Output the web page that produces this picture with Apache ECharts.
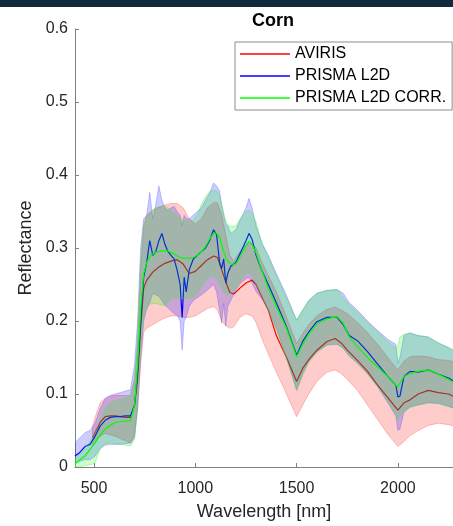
<!DOCTYPE html>
<html>
<head>
<meta charset="utf-8">
<script src="https://cdn.jsdelivr.net/npm/echarts@6/dist/echarts.min.js"></script>
<style>
	html, body { margin: 0; padding: 0; background: #fff; }
	#main { width: 453px; height: 526px; }
</style>
</head>
<body>
<div id="main"></div>
<script>
// wavelengths (nm) of the PRISMA samples
var wlPrisma = [406, 430, 455, 480, 505, 530, 555, 580, 605, 630, 655, 680, 700, 715, 730, 745, 760, 775, 790, 805, 820, 835, 850, 865, 880, 895, 910, 925, 935, 945, 955, 970, 990, 1010, 1030, 1050, 1070, 1090, 1105, 1120, 1130, 1140, 1150, 1160, 1175, 1200, 1225, 1250, 1265, 1280, 1300, 1330, 1360, 1400, 1450, 1500, 1530, 1560, 1600, 1650, 1700, 1730, 1760, 1800, 1850, 1900, 1950, 1990, 2000, 2010, 2030, 2060, 2100, 2150, 2200, 2250, 2280];

// PRISMA L2D
var l2dMean = [0.015, 0.02, 0.028, 0.031, 0.042, 0.056, 0.064, 0.068, 0.069, 0.069, 0.07, 0.07, 0.085, 0.13, 0.2, 0.26, 0.28, 0.31, 0.29, 0.295, 0.31, 0.32, 0.305, 0.295, 0.29, 0.285, 0.27, 0.25, 0.205, 0.26, 0.24, 0.27, 0.285, 0.29, 0.295, 0.3, 0.31, 0.325, 0.318, 0.28, 0.272, 0.285, 0.252, 0.265, 0.275, 0.28, 0.295, 0.31, 0.32, 0.312, 0.29, 0.268, 0.25, 0.225, 0.192, 0.153, 0.172, 0.185, 0.199, 0.205, 0.205, 0.195, 0.18, 0.173, 0.158, 0.141, 0.124, 0.112, 0.096, 0.097, 0.124, 0.131, 0.13, 0.133, 0.127, 0.122, 0.117];
var l2dHigh = [0.033, 0.04, 0.047, 0.05, 0.06, 0.08, 0.094, 0.098, 0.1, 0.102, 0.104, 0.106, 0.14, 0.2, 0.3, 0.34, 0.345, 0.376, 0.34, 0.36, 0.385, 0.365, 0.355, 0.352, 0.355, 0.357, 0.35, 0.345, 0.33, 0.345, 0.34, 0.34, 0.345, 0.35, 0.355, 0.365, 0.375, 0.389, 0.385, 0.378, 0.36, 0.345, 0.333, 0.33, 0.32, 0.325, 0.34, 0.355, 0.368, 0.355, 0.33, 0.306, 0.29, 0.265, 0.235, 0.201, 0.215, 0.228, 0.238, 0.242, 0.243, 0.238, 0.225, 0.215, 0.2, 0.187, 0.175, 0.168, 0.142, 0.15, 0.18, 0.184, 0.18, 0.178, 0.17, 0.163, 0.158];
var l2dLow = [0.006, 0.008, 0.01, 0.01, 0.015, 0.025, 0.03, 0.031, 0.031, 0.031, 0.032, 0.033, 0.04, 0.08, 0.15, 0.2, 0.216, 0.225, 0.238, 0.236, 0.234, 0.228, 0.222, 0.218, 0.214, 0.21, 0.208, 0.2, 0.16, 0.2, 0.205, 0.22, 0.228, 0.232, 0.236, 0.24, 0.245, 0.25, 0.24, 0.215, 0.197, 0.224, 0.193, 0.22, 0.228, 0.243, 0.252, 0.258, 0.26, 0.252, 0.24, 0.23, 0.215, 0.19, 0.15, 0.105, 0.128, 0.145, 0.158, 0.167, 0.168, 0.163, 0.152, 0.142, 0.128, 0.11, 0.088, 0.07, 0.05, 0.052, 0.075, 0.082, 0.085, 0.088, 0.087, 0.083, 0.08];

// PRISMA L2D CORR.
var corrMean = [0.004, 0.01, 0.015, 0.024, 0.033, 0.044, 0.052, 0.057, 0.061, 0.062, 0.063, 0.063, 0.085, 0.14, 0.215, 0.265, 0.28, 0.288, 0.292, 0.294, 0.295, 0.296, 0.296, 0.296, 0.294, 0.292, 0.289, 0.287, 0.286, 0.286, 0.286, 0.286, 0.287, 0.29, 0.295, 0.302, 0.312, 0.32, 0.32, 0.315, 0.305, 0.295, 0.287, 0.282, 0.278, 0.278, 0.29, 0.303, 0.309, 0.305, 0.293, 0.268, 0.245, 0.22, 0.19, 0.151, 0.168, 0.182, 0.196, 0.203, 0.206, 0.197, 0.178, 0.165, 0.15, 0.137, 0.124, 0.112, 0.11, 0.115, 0.124, 0.128, 0.131, 0.133, 0.127, 0.12, 0.115];
var corrHigh = [0.011, 0.018, 0.026, 0.035, 0.047, 0.065, 0.082, 0.088, 0.091, 0.093, 0.095, 0.097, 0.12, 0.18, 0.28, 0.33, 0.342, 0.348, 0.352, 0.355, 0.356, 0.357, 0.357, 0.355, 0.352, 0.348, 0.344, 0.341, 0.339, 0.338, 0.337, 0.337, 0.338, 0.345, 0.36, 0.37, 0.377, 0.379, 0.378, 0.37, 0.36, 0.348, 0.337, 0.332, 0.329, 0.33, 0.342, 0.35, 0.352, 0.348, 0.335, 0.306, 0.288, 0.262, 0.232, 0.201, 0.215, 0.228, 0.238, 0.242, 0.243, 0.232, 0.222, 0.212, 0.198, 0.185, 0.172, 0.163, 0.165, 0.178, 0.182, 0.183, 0.18, 0.178, 0.17, 0.164, 0.16];
var corrLow = [0.0, 0.0, 0.002, 0.003, 0.005, 0.026, 0.032, 0.033, 0.032, 0.031, 0.03, 0.029, 0.038, 0.09, 0.16, 0.207, 0.218, 0.223, 0.224, 0.224, 0.223, 0.222, 0.221, 0.225, 0.23, 0.231, 0.231, 0.231, 0.231, 0.231, 0.231, 0.231, 0.232, 0.238, 0.246, 0.254, 0.259, 0.261, 0.258, 0.25, 0.245, 0.24, 0.237, 0.236, 0.238, 0.245, 0.256, 0.264, 0.266, 0.262, 0.25, 0.232, 0.215, 0.188, 0.148, 0.105, 0.125, 0.143, 0.157, 0.167, 0.169, 0.162, 0.152, 0.142, 0.127, 0.11, 0.09, 0.072, 0.065, 0.07, 0.076, 0.082, 0.085, 0.088, 0.087, 0.083, 0.08];

// AVIRIS
var wlAviris = [493, 510, 530, 555, 580, 605, 630, 655, 680, 700, 715, 730, 745, 760, 790, 820, 850, 880, 910, 940, 970, 1000, 1030, 1060, 1090, 1110, 1130, 1150, 1170, 1190, 1220, 1250, 1280, 1300, 1330, 1360, 1400, 1450, 1500, 1530, 1560, 1600, 1650, 1690, 1720, 1750, 1800, 1850, 1900, 1950, 2000, 2030, 2060, 2100, 2150, 2200, 2250, 2280];
var avMean = [0.04, 0.05, 0.061, 0.069, 0.07, 0.07, 0.069, 0.068, 0.068, 0.085, 0.12, 0.19, 0.245, 0.256, 0.267, 0.274, 0.279, 0.282, 0.284, 0.278, 0.265, 0.268, 0.276, 0.284, 0.289, 0.287, 0.27, 0.254, 0.239, 0.237, 0.245, 0.252, 0.256, 0.25, 0.232, 0.215, 0.18, 0.15, 0.117, 0.135, 0.147, 0.16, 0.172, 0.176, 0.17, 0.16, 0.146, 0.131, 0.112, 0.095, 0.078, 0.088, 0.092, 0.1, 0.105, 0.102, 0.1, 0.096];
var avHigh = [0.056, 0.072, 0.088, 0.094, 0.097, 0.098, 0.098, 0.098, 0.098, 0.12, 0.17, 0.27, 0.33, 0.345, 0.352, 0.356, 0.359, 0.361, 0.361, 0.355, 0.34, 0.333, 0.34, 0.355, 0.362, 0.362, 0.345, 0.318, 0.29, 0.282, 0.295, 0.305, 0.306, 0.3, 0.28, 0.262, 0.24, 0.205, 0.169, 0.183, 0.195, 0.207, 0.216, 0.219, 0.215, 0.21, 0.198, 0.184, 0.168, 0.15, 0.133, 0.145, 0.151, 0.152, 0.151, 0.147, 0.146, 0.144];
var avLow = [0.029, 0.035, 0.042, 0.046, 0.044, 0.042, 0.039, 0.036, 0.033, 0.045, 0.08, 0.14, 0.185, 0.19, 0.195, 0.2, 0.204, 0.207, 0.207, 0.205, 0.205, 0.207, 0.212, 0.217, 0.22, 0.215, 0.2, 0.194, 0.19, 0.192, 0.205, 0.21, 0.207, 0.198, 0.175, 0.155, 0.13, 0.1, 0.069, 0.085, 0.1, 0.117, 0.13, 0.133, 0.128, 0.12, 0.105, 0.085, 0.065, 0.045, 0.028, 0.035, 0.043, 0.05, 0.057, 0.06, 0.058, 0.056];

var xTicks = [500, 1000, 1500, 2000];
var seriesNames = ['AVIRIS', 'PRISMA L2D', 'PRISMA L2D CORR.'];

var FONT = 'Liberation Sans, Arial, sans-serif';

function pairs(xs, ys) {
	var out = [];
	for (var i = 0; i < xs.length; i++) {
		out.push([xs[i], ys[i]]);
	}
	return out;
}

// shaded band between low and high, drawn as one polygon through the axes
function bandSeries(name, xs, low, high, fill, stroke, z) {
	return {
		name: name,
		type: 'custom',
		clip: true,
		silent: true,
		z: z,
		data: [[xs[0], low[0]]],
		renderItem: function(params, api) {
			var pts = [];
			for (var i = 0; i < xs.length; i++) {
				pts.push(api.coord([xs[i], high[i]]));
			}
			for (var j = xs.length - 1; j >= 0; j--) {
				pts.push(api.coord([xs[j], low[j]]));
			}
			return {
				type: 'polygon',
				shape: { points: pts },
				style: { fill: fill, stroke: stroke, lineWidth: 1 }
			};
		}
	};
}

function lineSeries(name, xs, ys, color, z) {
	return {
		name: name,
		type: 'line',
		clip: true,
		z: z,
		showSymbol: false,
		symbol: 'none',
		color: color,
		lineStyle: { color: color, width: 1.2 },
		data: pairs(xs, ys)
	};
}

var chart = echarts.init(document.getElementById('main'));

var option = {
	animation: false,
	backgroundColor: '#ffffff',
	graphic: [{
		type: 'rect',
		left: 0,
		top: 0,
		shape: { width: 453, height: 7 },
		style: { fill: '#0e2a3c' },
		silent: true
	}],
	title: {
		text: 'Corn',
		left: 268,
		top: 7,
		textAlign: 'center',
		textStyle: { fontFamily: FONT, fontSize: 18, fontWeight: 'bold', color: '#000' }
	},
	legend: {
		data: seriesNames,
		orient: 'vertical',
		left: 235,
		top: 42,
		z: 20,
		backgroundColor: '#ffffff',
		borderColor: '#8c8c8c',
		borderWidth: 1,
		borderRadius: 0,
		padding: [4, 6, 4, 5],
		itemGap: 6,
		itemWidth: 50,
		itemHeight: 1.5,
		icon: 'rect',
		textStyle: { fontFamily: FONT, fontSize: 16, color: '#000' }
	},
	grid: {
		left: 75,
		right: 0,
		top: 29,
		bottom: 59,
		containLabel: false
	},
	xAxis: {
		type: 'value',
		min: 406,
		max: 2272,
		name: 'Wavelength [nm]',
		nameLocation: 'middle',
		nameGap: 36,
		nameTextStyle: { fontFamily: FONT, fontSize: 18, color: '#262626' },
		axisLine: { lineStyle: { color: '#808080', width: 1 } },
		axisTick: { inside: true, length: 4, customValues: xTicks, lineStyle: { color: '#808080' } },
		axisLabel: {
			customValues: xTicks,
			fontFamily: FONT,
			fontSize: 16,
			color: '#262626',
			margin: 14,
			formatter: function(v) {
				return String(v);
			}
		},
		splitLine: { show: false }
	},
	yAxis: {
		type: 'value',
		min: 0,
		max: 0.6,
		interval: 0.1,
		name: 'Reflectance',
		nameLocation: 'middle',
		nameGap: 32,
		nameTextStyle: { fontFamily: FONT, fontSize: 18, color: '#262626' },
		axisLine: { show: true, lineStyle: { color: '#808080', width: 1 } },
		axisTick: { show: true, inside: true, length: 4, lineStyle: { color: '#808080' } },
		axisLabel: {
			fontFamily: FONT,
			fontSize: 16,
			color: '#262626',
			margin: 7,
			formatter: function(v) {
				return v === 0 ? '0' : v.toFixed(1);
			}
		},
		splitLine: { show: false }
	},
	series: [
		bandSeries('AVIRIS band', wlAviris, avLow, avHigh, 'rgba(255,0,0,0.2)', 'rgba(255,80,80,0.35)', 2),
		lineSeries('AVIRIS', wlAviris, avMean, '#ff0000', 3),
		bandSeries('L2D band', wlPrisma, l2dLow, l2dHigh, 'rgba(0,0,255,0.2)', 'rgba(90,90,255,0.35)', 4),
		lineSeries('PRISMA L2D', wlPrisma, l2dMean, '#0000ff', 5),
		bandSeries('CORR band', wlPrisma, corrLow, corrHigh, 'rgba(0,255,0,0.2)', 'rgba(80,230,80,0.4)', 6),
		lineSeries('PRISMA L2D CORR.', wlPrisma, corrMean, '#00ff00', 7)
	]
};

chart.setOption(option, true);

window.onresize = function() {
	chart.resize();
};
</script>
</body>
</html>
